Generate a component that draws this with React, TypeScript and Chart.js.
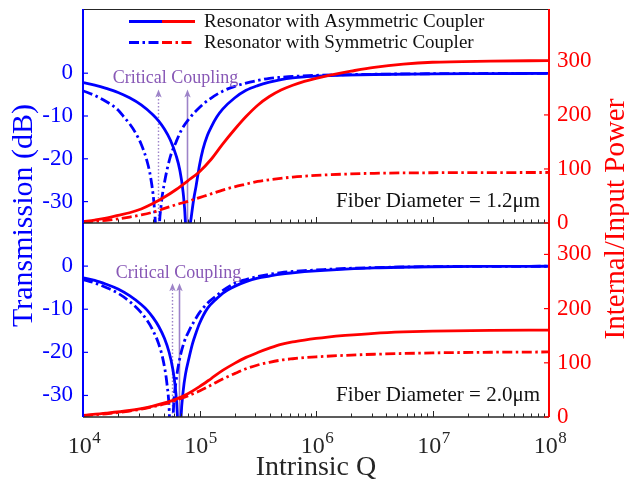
import React, { useEffect, useRef } from "react";
import { Chart, registerables } from "chart.js";

Chart.register(...registerables);

const FONT = '"Liberation Serif", "Times New Roman", Times, serif';
const BLUE = "#0000ff";
const RED = "#ff0000";
const INK = "#262626";
const PURPLE_TEXT = "#8858b6";
const PURPLE_ARROW = "#9d83c8";
const DASH_DOT = [10, 3.5, 2.5, 3.5];

// ---- axes / labels ----
const X_MIN = 1e4;
const X_MAX = 1e8;
const X_DECADES = [1e4, 1e5, 1e6, 1e7, 1e8];
const X_EXPONENTS = ["4", "5", "6", "7", "8"];
const DB_TICKS = [-30, -20, -10, 0];
const POWER_TICKS = [0, 100, 200, 300];
const TOP_DB_RANGE = [-35, 15];
const TOP_POWER_RANGE = [0, 396];
const BOT_DB_RANGE = [-35, 10];
const BOT_POWER_RANGE = [0, 358];
const LEGEND_LABELS = ["Resonator with Asymmetric Coupler", "Resonator with Symmetric Coupler"];
const PANEL_LABELS = ["Fiber Diameter = 1.2\u03bcm", "Fiber Diameter = 2.0\u03bcm"];
const CRIT_TEXT = "Critical Coupling";
const X_TITLE = "Intrinsic Q";
const LEFT_TITLE = "Transmission (dB)";
const RIGHT_TITLE = "Internal/Input Power";

// critical coupling Q: [symmetric (dotted), asymmetric (solid)]
const TOP_CRIT_Q = [4.4e4, 7.85e4];
const BOT_CRIT_Q = [5.75e4, 6.7e4];

// ---- top panel (1.2 um) ----
const topAsymQ = [1e4, 1.26e4, 1.58e4, 2e4, 2.51e4, 3.16e4, 3.98e4, 4.47e4, 5.01e4, 5.62e4, 6.31e4, 6.76e4, 7.24e4, 7.59e4, 7.85e4, 8.13e4, 8.51e4, 8.91e4, 9.33e4, 1e5, 1.07e5, 1.17e5, 1.26e5, 1.41e5, 1.58e5, 2e5, 2.51e5, 3.16e5, 3.98e5, 5.01e5, 6.31e5, 7.94e5, 1e6, 1.78e6, 3.16e6, 1e7, 3.16e7, 1e8];
const topAsymDb = [-2.2, -2.8, -3.55, -4.5, -5.75, -7.4, -9.7, -11.2, -13.1, -15.6, -19.3, -22.5, -27.9, -35.3, -48, -38, -33.5, -29.5, -26.5, -21.5, -17.8, -14.5, -12.6, -10.2, -8.4, -5.8, -4.0, -2.9, -2.1, -1.5, -1.1, -0.85, -0.7, -0.45, -0.3, -0.15, -0.1, -0.05];
const topSymQ = [1e4, 1.26e4, 1.58e4, 2e4, 2.24e4, 2.51e4, 2.82e4, 3.16e4, 3.55e4, 3.8e4, 4.07e4, 4.22e4, 4.4e4, 4.49e4, 4.68e4, 5.01e4, 5.62e4, 6.31e4, 7.08e4, 7.94e4, 1e5, 1.26e5, 1.58e5, 2e5, 2.51e5, 3.16e5, 3.98e5, 5.01e5, 6.31e5, 1e6, 3.16e6, 1e7, 1e8];
const topSymDb = [-4.1, -5.2, -6.6, -8.6, -10.2, -11.8, -13.9, -16.6, -20.6, -24.2, -30.5, -37, -50, -38, -31, -25.5, -19.5, -16.0, -13.0, -11.0, -8.0, -5.8, -4.2, -3.1, -2.3, -1.7, -1.2, -0.95, -0.75, -0.5, -0.25, -0.12, -0.05];
const topAsymPowQ = [1e4, 1.26e4, 1.58e4, 2e4, 2.51e4, 3.16e4, 3.98e4, 5.01e4, 6.31e4, 7.94e4, 1e5, 1.26e5, 1.58e5, 2e5, 2.51e5, 3.16e5, 3.98e5, 5.01e5, 6.31e5, 7.94e5, 1e6, 1.26e6, 1.58e6, 2e6, 3.16e6, 5.62e6, 1e7, 3.16e7, 1e8];
const topAsymPow = [2.5, 5.5, 9, 14, 19, 26, 36, 48, 62, 78, 95, 118, 146, 173, 197, 218, 234, 246, 255, 262, 267.5, 272.5, 277, 281, 288, 294, 297.5, 299.5, 300.5];
const topSymPowQ = [1e4, 1.58e4, 2.51e4, 3.16e4, 3.98e4, 5.01e4, 6.31e4, 7.94e4, 1e5, 1.26e5, 1.58e5, 2e5, 2.51e5, 3.16e5, 3.98e5, 6.31e5, 1e6, 1.78e6, 3.16e6, 1e7, 1e8];
const topSymPow = [1.5, 5, 11, 15, 20, 27, 34, 40, 47, 54, 61, 67, 72, 77, 80, 85, 88, 90.5, 92, 93, 93.5];

// ---- bottom panel (2.0 um) ----
const botAsymQ = [1e4, 1.26e4, 1.58e4, 2e4, 2.51e4, 3.16e4, 3.55e4, 3.98e4, 4.47e4, 5.01e4, 5.5e4, 5.89e4, 6.24e4, 6.46e4, 6.7e4, 6.92e4, 7.24e4, 7.59e4, 8.13e4, 8.71e4, 9.33e4, 1e5, 1.17e5, 1.41e5, 1.58e5, 2e5, 2.51e5, 3.16e5, 3.98e5, 5.01e5, 6.31e5, 7.94e5, 1e6, 1.78e6, 3.16e6, 1e7, 3.16e7, 1e8];
const botAsymDb = [-2.7, -3.3, -4.2, -5.3, -6.85, -8.9, -10.2, -11.9, -14.0, -16.8, -20.1, -23.8, -28.9, -34.7, -50, -36, -29, -25, -21.3, -18, -15.5, -13.3, -9.8, -7.5, -6.3, -4.7, -3.6, -2.8, -2.3, -1.85, -1.55, -1.3, -1.1, -0.7, -0.4, -0.15, -0.07, -0.03];
const botSymQ = [1e4, 1.26e4, 1.58e4, 2e4, 2.51e4, 3.16e4, 3.55e4, 3.98e4, 4.47e4, 4.9e4, 5.25e4, 5.5e4, 5.75e4, 5.96e4, 6.31e4, 6.76e4, 7.41e4, 8.13e4, 8.91e4, 1e5, 1.17e5, 1.41e5, 1.58e5, 2e5, 2.51e5, 3.16e5, 3.98e5, 5.01e5, 6.31e5, 7.94e5, 1e6, 1.78e6, 3.16e6, 1e7, 1e8];
const botSymDb = [-3.1, -3.9, -4.95, -6.3, -8.2, -10.8, -12.6, -14.9, -18.1, -22.1, -27.2, -33.6, -50, -34, -26.5, -21.5, -17.5, -15.0, -13.0, -10.8, -8.6, -6.8, -5.7, -4.0, -3.1, -2.4, -1.9, -1.5, -1.25, -1.05, -0.9, -0.55, -0.35, -0.12, -0.03];
const botAsymPowQ = [1e4, 1.58e4, 2.51e4, 3.16e4, 3.98e4, 5.01e4, 6.31e4, 7.94e4, 1e5, 1.26e5, 1.58e5, 2e5, 2.51e5, 3.16e5, 3.98e5, 5.01e5, 6.31e5, 7.94e5, 1e6, 1.26e6, 1.78e6, 3.16e6, 5.62e6, 1e7, 3.16e7, 1e8];
const botAsymPow = [3, 7, 12, 15.5, 20, 26, 33, 43, 56, 71, 86, 99, 110, 119, 127, 134, 138.5, 142, 145, 147.5, 150.5, 154.5, 157, 158.5, 160, 160.5];
const botSymPowQ = [1e4, 1.58e4, 2.51e4, 3.16e4, 3.98e4, 5.01e4, 6.31e4, 7.94e4, 1e5, 1.26e5, 1.58e5, 2e5, 2.51e5, 3.16e5, 3.98e5, 5.01e5, 6.31e5, 7.94e5, 1e6, 1.78e6, 3.16e6, 1e7, 3.16e7, 1e8];
const botSymPow = [2.5, 6, 11, 14.5, 19, 24, 31, 39, 48, 59, 70, 80, 89, 96, 101, 105, 107.5, 109.5, 111, 113.8, 115.8, 118.3, 119.5, 120];

function pts(qs: number[], vals: number[]) {
  return qs.map((q, i) => ({ x: q, y: vals[i] }));
}

function line(label: string, data: any[], color: string, dashed: boolean, axis: string) {
  return {
    label,
    data,
    borderColor: color,
    backgroundColor: color,
    borderWidth: 2.8,
    borderDash: dashed ? DASH_DOT : [],
    borderCapStyle: "butt",
    pointRadius: 0,
    fill: false,
    cubicInterpolationMode: "monotone",
    yAxisID: axis,
    clip: 0,
  };
}

type Deco = {
  legend: boolean;
  fiberLabel: string;
  critQ: number[];
  critTextQ: number;
  critTextDb: number;
  arrowTipDb: number;
  xLabels: boolean;
  titles: boolean;
};

function decoPlugin(d: Deco) {
  return {
    id: "panelDeco",
    beforeDatasetsDraw(chart: any) {
      const ctx = chart.ctx as CanvasRenderingContext2D;
      const a = chart.chartArea;
      const xs = chart.scales.x;
      const yL = chart.scales.yL;
      ctx.save();
      d.critQ.forEach((q, i) => {
        const px = Math.round(xs.getPixelForValue(q)) + 0.5;
        const tip = yL.getPixelForValue(d.arrowTipDb);
        ctx.strokeStyle = PURPLE_ARROW;
        ctx.fillStyle = PURPLE_ARROW;
        ctx.lineWidth = i === 0 ? 1.4 : 1.6;
        ctx.setLineDash(i === 0 ? [1.5, 2] : []);
        ctx.beginPath();
        ctx.moveTo(px, a.bottom);
        ctx.lineTo(px, tip + 5);
        ctx.stroke();
        ctx.setLineDash([]);
        ctx.beginPath();
        ctx.moveTo(px, tip);
        ctx.lineTo(px - 3.2, tip + 8);
        ctx.lineTo(px, tip + 6);
        ctx.lineTo(px + 3.2, tip + 8);
        ctx.closePath();
        ctx.fill();
      });
      ctx.restore();
    },
    afterDatasetsDraw(chart: any) {
      const ctx = chart.ctx as CanvasRenderingContext2D;
      const a = chart.chartArea;
      const xs = chart.scales.x;
      const yL = chart.scales.yL;
      const yR = chart.scales.yR;
      ctx.save();
      ctx.setLineDash([]);

      // frame: bottom line (and top line for the top panel)
      ctx.strokeStyle = INK;
      ctx.lineWidth = 1.5;
      ctx.beginPath();
      ctx.moveTo(a.left, a.bottom);
      ctx.lineTo(a.right, a.bottom);
      ctx.stroke();
      if (d.legend) {
        ctx.lineWidth = 1;
        ctx.beginPath();
        ctx.moveTo(a.left, Math.round(a.top) + 0.5);
        ctx.lineTo(a.right, Math.round(a.top) + 0.5);
        ctx.stroke();
      }
      // x ticks (inward, from bottom)
      ctx.lineWidth = 1;
      for (let e = 0; e < X_DECADES.length; e++) {
        for (let k = 1; k <= 9; k++) {
          const v = X_DECADES[e] * k;
          if (v > X_MAX) break;
          const px = Math.round(xs.getPixelForValue(v)) + 0.5;
          const len = k === 1 ? 6 : 3.5;
          ctx.beginPath();
          ctx.moveTo(px, a.bottom);
          ctx.lineTo(px, a.bottom - len);
          ctx.stroke();
        }
      }
      // left axis
      ctx.strokeStyle = BLUE;
      ctx.lineWidth = 2;
      ctx.beginPath();
      ctx.moveTo(a.left, a.top);
      ctx.lineTo(a.left, a.bottom);
      ctx.stroke();
      ctx.lineWidth = 1.2;
      DB_TICKS.forEach((v) => {
        const py = yL.getPixelForValue(v);
        ctx.beginPath();
        ctx.moveTo(a.left, py);
        ctx.lineTo(a.left + 5, py);
        ctx.stroke();
      });
      // right axis
      ctx.strokeStyle = RED;
      ctx.lineWidth = 2;
      ctx.beginPath();
      ctx.moveTo(a.right, a.top);
      ctx.lineTo(a.right, a.bottom);
      ctx.stroke();
      ctx.lineWidth = 1.2;
      POWER_TICKS.forEach((v) => {
        const py = yR.getPixelForValue(v);
        ctx.beginPath();
        ctx.moveTo(a.right, py);
        ctx.lineTo(a.right - 5, py);
        ctx.stroke();
      });

      // Critical Coupling text
      ctx.font = `18px ${FONT}`;
      ctx.fillStyle = PURPLE_TEXT;
      ctx.textAlign = "center";
      ctx.textBaseline = "alphabetic";
      ctx.fillText(CRIT_TEXT, xs.getPixelForValue(d.critTextQ), yL.getPixelForValue(d.critTextDb));

      // fiber label
      ctx.font = `21px ${FONT}`;
      ctx.fillStyle = "#111";
      ctx.textAlign = "right";
      ctx.fillText(d.fiberLabel, a.right - 9, a.bottom - 16);

      // legend
      if (d.legend) {
        const rows = [a.top + 12.5, a.top + 33.5];
        rows.forEach((y, r) => {
          ctx.lineWidth = 2.8;
          ctx.setLineDash(r === 0 ? [] : DASH_DOT);
          ctx.strokeStyle = BLUE;
          ctx.beginPath();
          ctx.moveTo(a.left + 46, y);
          ctx.lineTo(a.left + 79, y);
          ctx.stroke();
          ctx.strokeStyle = RED;
          ctx.beginPath();
          ctx.moveTo(a.left + 79, y);
          ctx.lineTo(a.left + 112, y);
          ctx.stroke();
          ctx.setLineDash([]);
          ctx.font = `19px ${FONT}`;
          ctx.fillStyle = "#111";
          ctx.textAlign = "left";
          ctx.textBaseline = "middle";
          ctx.fillText(LEGEND_LABELS[r], a.left + 121, y + 1);
        });
        ctx.textBaseline = "alphabetic";
      }

      // x tick labels
      if (d.xLabels) {
        ctx.fillStyle = INK;
        ctx.textAlign = "left";
        ctx.textBaseline = "alphabetic";
        X_DECADES.forEach((v, i) => {
          const px = xs.getPixelForValue(v);
          ctx.font = `24px ${FONT}`;
          const w10 = ctx.measureText("10").width;
          ctx.font = `17px ${FONT}`;
          const we = ctx.measureText(X_EXPONENTS[i]).width;
          const start = px - (w10 + we) / 2 + 1;
          ctx.font = `24px ${FONT}`;
          ctx.fillText("10", start, a.bottom + 35.5);
          ctx.font = `17px ${FONT}`;
          ctx.fillText(X_EXPONENTS[i], start + w10 + 0.5, a.bottom + 26);
        });
        ctx.font = `28px ${FONT}`;
        ctx.textAlign = "center";
        ctx.fillText(X_TITLE, (a.left + a.right) / 2, a.bottom + 58);
      }

      // axis titles
      if (d.titles) {
        ctx.textAlign = "center";
        ctx.textBaseline = "alphabetic";
        ctx.font = `30px ${FONT}`;
        ctx.fillStyle = BLUE;
        ctx.save();
        ctx.translate(31.5, 215.5);
        ctx.rotate(-Math.PI / 2);
        ctx.fillText(LEFT_TITLE, 0, 0);
        ctx.restore();
        ctx.font = `29px ${FONT}`;
        ctx.fillStyle = RED;
        ctx.save();
        ctx.translate(624, 219);
        ctx.rotate(-Math.PI / 2);
        ctx.fillText(RIGHT_TITLE, 0, 0);
        ctx.restore();
      }
      ctx.restore();
    },
  };
}

type Panel = {
  asymQ: number[];
  asymDb: number[];
  symQ: number[];
  symDb: number[];
  asymPowQ: number[];
  asymPow: number[];
  symPowQ: number[];
  symPow: number[];
  dbRange: number[];
  powRange: number[];
  padding: any;
  deco: Deco;
};

function fixAxis(width: number) {
  return (s: any) => {
    s.width = width;
    s.paddingTop = 0;
    s.paddingBottom = 0;
  };
}

function buildConfig(p: Panel): any {
  return {
    type: "line",
    data: {
      datasets: [
        line("Internal power (asymmetric)", pts(p.asymPowQ, p.asymPow), RED, false, "yR"),
        line("Internal power (symmetric)", pts(p.symPowQ, p.symPow), RED, true, "yR"),
        line("Transmission (asymmetric)", pts(p.asymQ, p.asymDb), BLUE, false, "yL"),
        line("Transmission (symmetric)", pts(p.symQ, p.symDb), BLUE, true, "yL"),
      ],
    },
    options: {
      responsive: false,
      animation: false,
      events: [],
      layout: { padding: p.padding },
      plugins: { legend: { display: false }, tooltip: { enabled: false } },
      scales: {
        x: { type: "logarithmic", min: X_MIN, max: X_MAX, display: false },
        yL: {
          type: "linear",
          position: "left",
          min: p.dbRange[0],
          max: p.dbRange[1],
          afterBuildTicks: (s: any) => {
            s.ticks = DB_TICKS.map((v) => ({ value: v }));
          },
          afterFit: fixAxis(83),
          grid: { display: false, drawTicks: false },
          border: { display: false },
          ticks: { color: BLUE, font: { family: FONT, size: 23 }, padding: 10 },
        },
        yR: {
          type: "linear",
          position: "right",
          min: p.powRange[0],
          max: p.powRange[1],
          afterBuildTicks: (s: any) => {
            s.ticks = POWER_TICKS.map((v) => ({ value: v }));
          },
          afterFit: fixAxis(80),
          grid: { display: false, drawTicks: false },
          border: { display: false },
          ticks: { color: RED, font: { family: FONT, size: 23 }, padding: 8 },
        },
      },
    },
    plugins: [decoPlugin(p.deco)],
  };
}

export default function App() {
  const topRef = useRef<HTMLCanvasElement>(null);
  const botRef = useRef<HTMLCanvasElement>(null);

  useEffect(() => {
    const top = new Chart(
      topRef.current as HTMLCanvasElement,
      buildConfig({
        asymQ: topAsymQ,
        asymDb: topAsymDb,
        symQ: topSymQ,
        symDb: topSymDb,
        asymPowQ: topAsymPowQ,
        asymPow: topAsymPow,
        symPowQ: topSymPowQ,
        symPow: topSymPow,
        dbRange: TOP_DB_RANGE,
        powRange: TOP_POWER_RANGE,
        padding: { left: 0, right: 0, top: 9, bottom: 22 },
        deco: {
          legend: true,
          fiberLabel: PANEL_LABELS[0],
          critQ: TOP_CRIT_Q,
          critTextQ: 6.22e4,
          critTextDb: -2.4,
          arrowTipDb: -3.8,
          xLabels: false,
          titles: false,
        },
      })
    );
    const bot = new Chart(
      botRef.current as HTMLCanvasElement,
      buildConfig({
        asymQ: botAsymQ,
        asymDb: botAsymDb,
        symQ: botSymQ,
        symDb: botSymDb,
        asymPowQ: botAsymPowQ,
        asymPow: botAsymPow,
        symPowQ: botSymPowQ,
        symPow: botSymPow,
        dbRange: BOT_DB_RANGE,
        powRange: BOT_POWER_RANGE,
        padding: { left: 0, right: 0, top: 223, bottom: 74 },
        deco: {
          legend: false,
          fiberLabel: PANEL_LABELS[1],
          critQ: BOT_CRIT_Q,
          critTextQ: 6.61e4,
          critTextDb: -2.85,
          arrowTipDb: -4.0,
          xLabels: true,
          titles: true,
        },
      })
    );
    return () => {
      top.destroy();
      bot.destroy();
    };
  }, []);

  return (
    <div style={{ position: "absolute", left: 0, top: 0, width: 629, height: 491, background: "#fff" }}>
      <canvas ref={botRef} width={629} height={491} style={{ position: "absolute", left: 0, top: 0 }} />
      <canvas ref={topRef} width={629} height={245} style={{ position: "absolute", left: 0, top: 0 }} />
    </div>
  );
}
